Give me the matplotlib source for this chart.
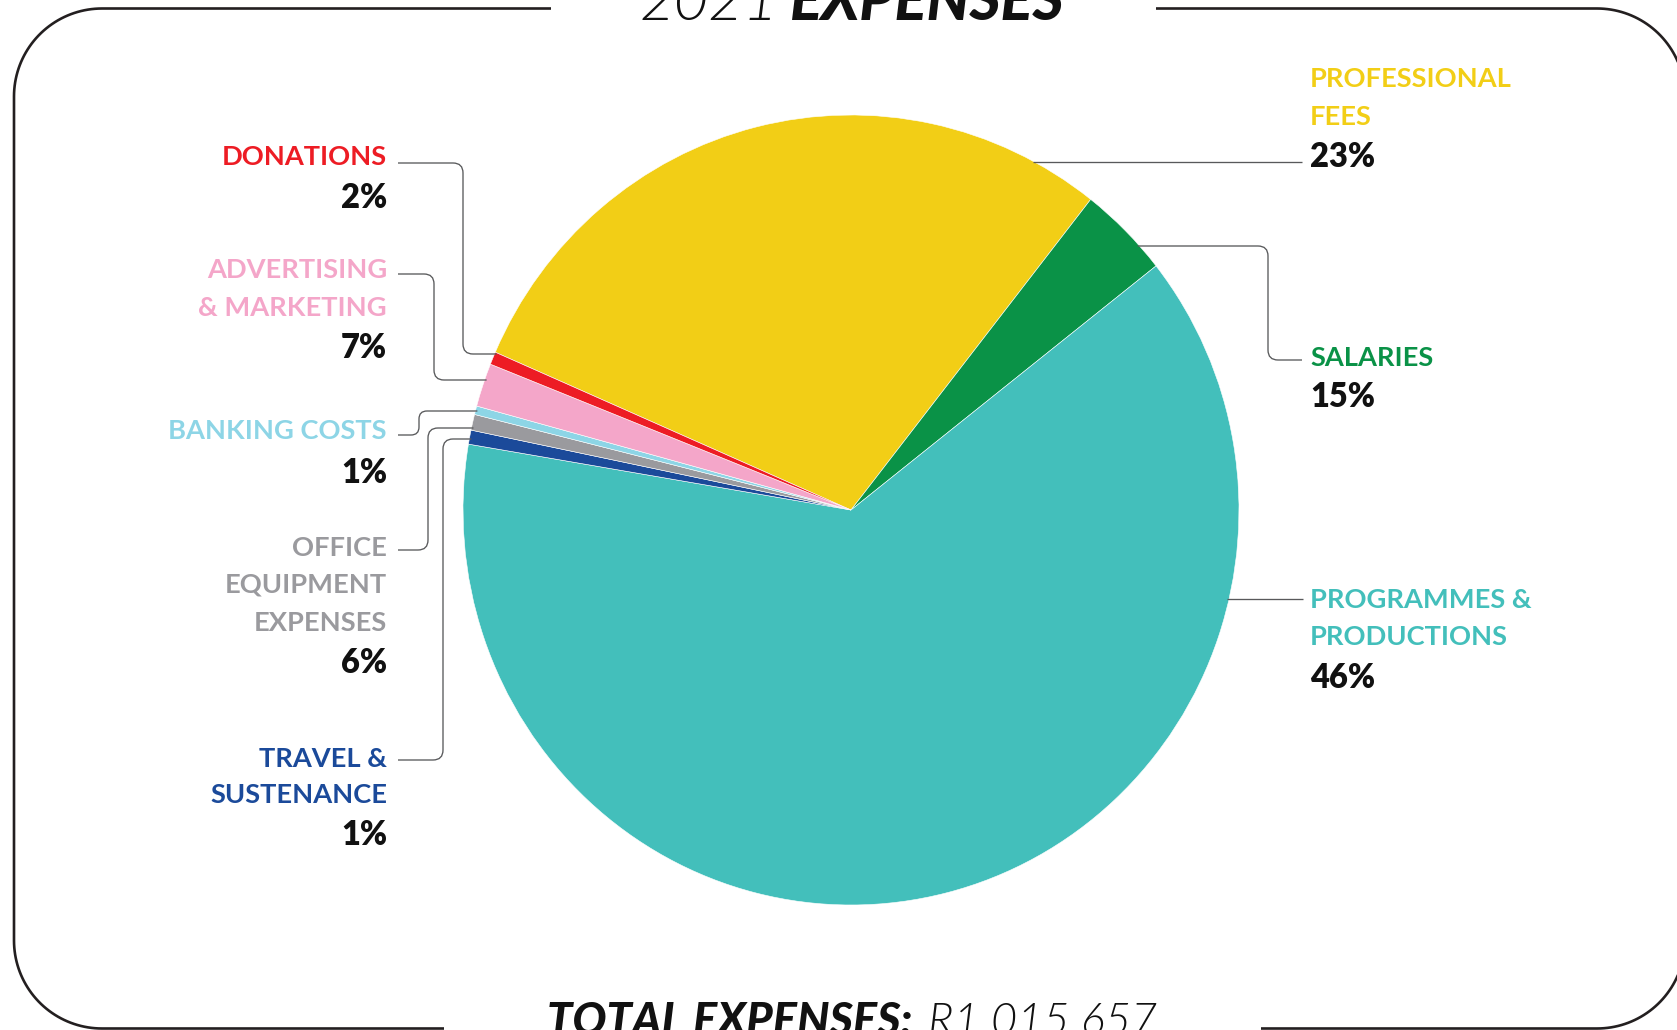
import numpy as np
import matplotlib
matplotlib.use("Agg")
import matplotlib.pyplot as plt
from matplotlib.path import Path
from matplotlib.patches import PathPatch

# ---------------- data ----------------
categories = ["PROFESSIONAL\nFEES", "SALARIES", "PROGRAMMES &\nPRODUCTIONS",
              "TRAVEL &\nSUSTENANCE", "OFFICE\nEQUIPMENT\nEXPENSES",
              "BANKING COSTS", "ADVERTISING\n& MARKETING", "DONATIONS"]
# slice sizes as drawn in the picture (share of the circle, %)
slice_shares = [29.06, 3.80, 63.27, 0.575, 0.647, 0.35, 1.78, 0.52]
# percentages printed on the labels
label_pcts = ["23%", "15%", "46%", "1%", "6%", "1%", "7%", "2%"]
colors = ["#F2CE16", "#0A9247", "#43BFBB", "#1B4A9A", "#9A9A9E",
          "#8DD5E6", "#F4A6C9", "#ED1C24"]
title_year = "2021"
title_word = "EXPENSES"
total_label = "TOTAL EXPENSES:"
total_value = "R1 015 657"

# ---------------- layout ----------------
W, H = 1677, 1030
cx, cy, rh, rv = 851, 510, 388, 395
FONT = "Lato"
LINE_C = "#58595B"

fig = plt.figure(figsize=(W / 100, H / 100), dpi=100)
fig.patch.set_facecolor("white")

# pie axes (slightly elliptical, as in the reference)
axp = fig.add_axes([(cx - rh) / W, (H - (cy + rv)) / H, 2 * rh / W, 2 * rv / H])
axp.pie(slice_shares, colors=colors, startangle=156.46, counterclock=False,
        wedgeprops=dict(edgecolor="white", linewidth=0.4))
axp.set_aspect("auto")
axp.set_xlim(-1, 1)
axp.set_ylim(-1, 1)
axp.axis("off")

# overlay axes in pixel coordinates
ax = fig.add_axes([0, 0, 1, 1])
ax.set_xlim(0, W)
ax.set_ylim(H, 0)
ax.axis("off")
ax.patch.set_visible(False)


def rounded_path(points, r):
    pts = [np.array(p, float) for p in points]
    verts = [pts[0]]
    codes = [Path.MOVETO]
    for i in range(1, len(pts) - 1):
        p0, p1, p2 = pts[i - 1], pts[i], pts[i + 1]
        l1 = np.linalg.norm(p1 - p0)
        l2 = np.linalg.norm(p2 - p1)
        d1 = (p1 - p0) / l1
        d2 = (p2 - p1) / l2
        rr = min(r, l1 / 2, l2 / 2)
        verts += [p1 - d1 * rr, p1, p1 + d2 * rr]
        codes += [Path.LINETO, Path.CURVE3, Path.CURVE3]
    verts.append(pts[-1])
    codes.append(Path.LINETO)
    return Path(verts, codes)


def edge_x(y, side):
    return cx + side * rh * np.sqrt(max(0.0, 1 - ((y - cy) / rv) ** 2))


def leader(points, r=10):
    ax.add_patch(PathPatch(rounded_path(points, r), fill=False,
                           edgecolor=LINE_C, linewidth=0.95))


# ---------------- leader lines ----------------
# left side
leader([(398, 163), (463, 163), (463, 354), (edge_x(354, -1) + 2, 354)])
leader([(398, 274), (434, 274), (434, 380), (edge_x(380, -1) + 2, 380)])
leader([(398, 435), (419, 435), (419, 411), (edge_x(411, -1) + 2, 411)], r=8)
leader([(398, 550), (428, 550), (428, 428), (edge_x(428, -1) + 2, 428)])
leader([(398, 760), (443, 760), (443, 439), (edge_x(439, -1) + 2, 439)])
# right side
leader([(edge_x(162, 1) - 2, 162), (1302, 162)])
leader([(edge_x(246, 1) - 2, 246), (1268, 246), (1268, 360), (1302, 360)])
leader([(edge_x(599, 1) - 2, 599), (1303, 599)])

# ---------------- labels ----------------
LBL = 19.6
PCT = 23.5


def label(x, baselines, idx, ha):
    lines = categories[idx].split("\n")
    for ln, yb in zip(lines, baselines[:-1]):
        ax.text(x, yb, ln, ha=ha, va="baseline", color=colors[idx],
                fontsize=LBL, fontweight="bold", fontfamily=FONT)
    ax.text(x, baselines[-1], label_pcts[idx], ha=ha, va="baseline",
            color="#111111", fontsize=PCT, fontweight="heavy", fontfamily=FONT)


XL, XR = 387, 1310
label(XR, [87, 125, 167], 0, "left")
label(XR, [366, 407], 1, "left")
label(XR, [608, 645, 688], 2, "left")
label(XL, [767, 803, 845], 3, "right")
label(XL, [556, 593, 631, 673], 4, "right")
label(XL, [439, 483], 5, "right")
label(XL, [278, 316, 358], 6, "right")
label(XL, [165, 208], 7, "right")

# ---------------- frame ----------------
L, T, R, B, rc = 14, 8.5, 1685, 1028.5, 88


def arc(xc, yc, a0, a1, n=40):
    a = np.radians(np.linspace(a0, a1, n))
    return np.column_stack([xc + rc * np.cos(a), yc + rc * np.sin(a)])


left_part = np.vstack([[[551, T]], [[L + rc, T]], arc(L + rc, T + rc, 270, 180),
                       [[L, B - rc]], arc(L + rc, B - rc, 180, 90), [[444, B]]])
right_part = np.vstack([[[1156, T]], [[R - rc, T]], arc(R - rc, T + rc, 270, 360),
                        [[R, B - rc]], arc(R - rc, B - rc, 0, 90), [[1261, B]]])
for part in (left_part, right_part):
    ax.plot(part[:, 0], part[:, 1], color="#231F20", linewidth=1.9,
            solid_capstyle="butt")

# ---------------- title and total ----------------
TS = 43
BS = 32.5
ax.text(640, 19.5, title_year, ha="left", va="baseline", fontsize=TS,
        fontfamily=FONT, fontweight=300, fontstyle="italic", color="#111111")
ax.text(1064, 19.5, title_word, ha="right", va="baseline", fontsize=TS,
        fontfamily=FONT, fontweight="black", fontstyle="italic", color="#111111")
ax.text(547, 1035, total_label, ha="left", va="baseline", fontsize=BS,
        fontfamily=FONT, fontweight="black", fontstyle="italic", color="#111111")
ax.text(1157, 1035, total_value, ha="right", va="baseline", fontsize=BS,
        fontfamily=FONT, fontweight=300, fontstyle="italic", color="#111111")

fig.savefig("out.png", dpi=100)
